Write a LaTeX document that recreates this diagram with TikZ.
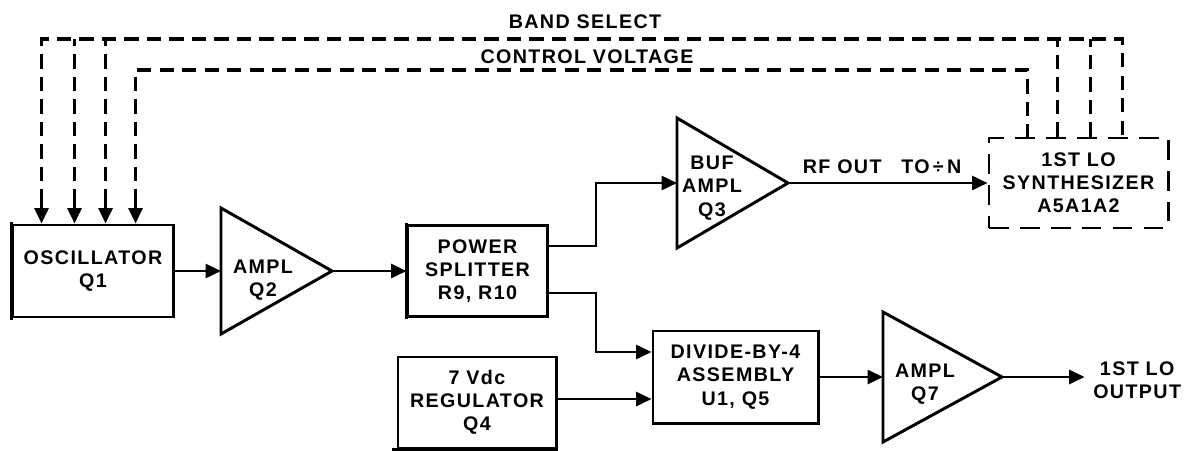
\documentclass[tikz,border=0pt]{standalone}
\usepackage{fontspec}
\setmainfont{Liberation Sans}[LetterSpace=7]
\usetikzlibrary{arrows.meta, positioning, calc}

\newcommand{\lettering}{\bfseries\fontsize{14}{16.5}\selectfont}

\begin{document}
\begin{tikzpicture}[x=0.025cm, y=-0.025cm,
  box/.style={draw, line width=2.1pt, inner sep=0pt, align=center, font=\lettering},
  bar/.style={line width=2.8pt},
  amp/.style={draw, line width=2.1pt},
  lbl/.style={inner sep=0pt, align=center, font=\lettering},
  sig/.style={line width=2pt, -{Triangle[length=11pt, width=10pt]}},
  ctl/.style={line width=2.4pt, dash pattern=on 10pt off 6pt},
  shield/.style={box, dash pattern=on 14pt off 8pt}]
\useasboundingbox (0,0) rectangle (1194,450);

% blocks
\node[box, minimum width=4cm, minimum height=2.3cm] (osc) at (93,271) {OSCILLATOR\\Q1};
\node[box, minimum width=3.475cm, minimum height=2.275cm] (split) at (477.5,271) {POWER\\SPLITTER\\R9, R10};
\node[box, minimum width=3.95cm, minimum height=2.275cm] (reg) at (477,402.5) {7 Vdc\\REGULATOR\\Q4};
\node[box, minimum width=4.125cm, minimum height=2.3cm] (div) at (735.5,377) {DIVIDE-BY-4\\ASSEMBLY\\U1, Q5};
\node[shield, minimum width=4.475cm, minimum height=2.25cm] (synth) at (1078.5,183) {1ST LO\\SYNTHESIZER\\A5A1A2};

\draw[bar] ([yshift=1pt]osc.north west) -- ([yshift=-1pt]osc.south west);
\draw[bar] ([yshift=1pt]split.north west) -- ([yshift=-1pt]split.south west);
\draw[bar] ([xshift=-3pt]reg.south west) -- (reg.south east);

% amplifiers
\coordinate (q2in) at (221,271);
\coordinate (q2out) at (332,271);
\coordinate (q3in) at (677,183);
\coordinate (q3out) at (788,183);
\coordinate (q7in) at (883,377);
\coordinate (q7out) at (1002,377);
\draw[amp] (221,208) -- (q2out) -- (221,334) -- cycle;
\draw[amp] (677,118) -- (q3out) -- (677,248) -- cycle;
\draw[amp] (883,312) -- (q7out) -- (883,442) -- cycle;
\node[lbl] (q2txt) at (263,280) {AMPL\\Q2};
\node[lbl] (q3txt) at (712,188) {BUF\\AMPL\\Q3};
\node[lbl] (q7txt) at (925,384) {AMPL\\Q7};

% labels
\node[lbl] (band) at (585,22) {BAND SELECT};
\node[lbl] (cvtxt) at (587,57) {CONTROL VOLTAGE};
\node[lbl] (rftxt) at (882,167) {RF OUT\quad TO\,÷\,N};
\node[lbl, anchor=west] (lo) at (1093,380) {1ST LO\\OUTPUT};

% signal path
\draw[sig] (osc.east) -- (q2in);
\draw[sig] (q2out) -- (split.west);
\coordinate (sp1) at ([yshift=0.625cm]split.east);
\coordinate (sp2) at ([yshift=-0.55cm]split.east);
\coordinate (dv1) at ([yshift=0.625cm]div.west);
\coordinate (dv2) at ([yshift=-0.55cm]div.west);
\coordinate (jog) at (596,0);
\draw[sig] (sp1) -- (sp1 -| jog) |- (q3in);
\draw[sig] (sp2) -- (sp2 -| jog) |- (dv1);
\draw[sig] (reg.east |- dv2) -- (dv2);
\draw[sig] (q3out) -- (synth.west);
\draw[sig] (div.east |- q7in) -- (q7in);
\draw[sig, shorten >=6pt] (q7out) -- (q7out -| lo.west);

% band select and control voltage
\foreach \n/\dx in {1/0.75, 2/1.575, 3/2.35, 4/3.1}
  \coordinate (in\n) at ([xshift=\dx cm]osc.north west);
\foreach \n/\dx in {cv/1.0, bs1/1.75, bs2/2.575, bs3/3.375}
  \coordinate (\n) at ([xshift=\dx cm]synth.north west);
\coordinate (bus) at (0,39);
\coordinate (cvbus) at (0,70);
\foreach \n in {1,...,4}
  \draw[sig] ([yshift=0.5cm]in\n) -- (in\n);
\draw[ctl] ([yshift=0.5cm]in1) -- (in1 |- bus) -- (bs3 |- bus) -- (bs3);
\draw[ctl] ([yshift=0.5cm]in2) -- (in2 |- bus);
\draw[ctl] ([yshift=0.5cm]in3) -- (in3 |- bus);
\draw[ctl] (bs1) -- (bs1 |- bus);
\draw[ctl] (bs2) -- (bs2 |- bus);
\draw[ctl] ([yshift=0.5cm]in4) -- (in4 |- cvbus) -- (cv |- cvbus) -- (cv);
\end{tikzpicture}
\end{document}
